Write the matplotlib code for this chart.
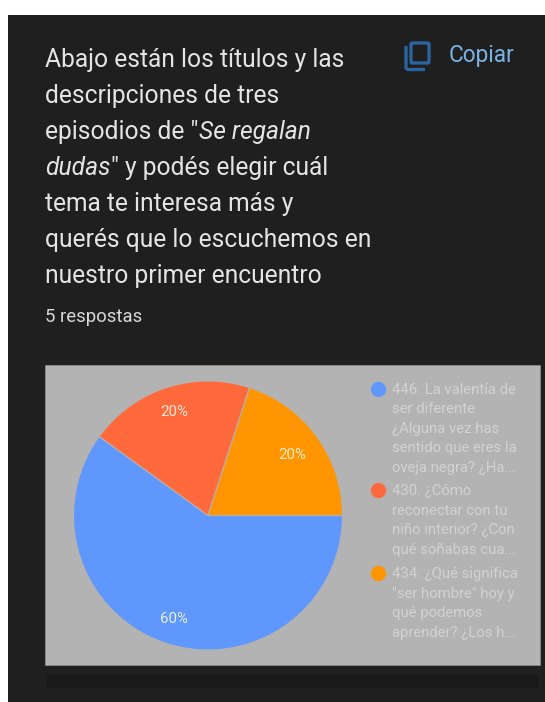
import matplotlib
matplotlib.use("Agg")
import matplotlib.pyplot as plt
from matplotlib.patches import Rectangle, FancyBboxPatch
import numpy as np

# Survey results
shares = [60, 20, 20]
colors = ["#6097fc", "#ff693c", "#ff9500"]
label_radii = [0.81, 0.81, 0.77]
pct_colors = ["#e3f0ff", "#ffe6d6", "#ffeccb"]
legend_lines = [
    ["446. La valentía de", "ser diferente", "¿Alguna vez has", "sentido que eres la", "oveja negra? ¿Ha..."],
    ["430. ¿Cómo", "reconectar con tu", "niño interior? ¿Con", "qué soñabas cua..."],
    ["434. ¿Qué significa", "\"ser hombre\" hoy y", "qué podemos", "aprender? ¿Los h..."],
]
title_lines = [
    [("Abajo están los títulos y las", "normal")],
    [("descripciones de tres", "normal")],
    [("episodios de \"", "normal"), ("Se regalan", "italic")],
    [("dudas", "italic"), ("\" y podés elegir cuál", "normal")],
    [("tema te interesa más y", "normal")],
    [("querés que lo escuchemos en", "normal")],
    [("nuestro primer encuentro", "normal")],
]
responses_label = "5 respostas"
copy_label = "Copiar"

W, H = 545, 702
plt.rcParams["font.family"] = ["Roboto", "DejaVu Sans"]
fig = plt.figure(figsize=(W / 100, H / 100), dpi=100, facecolor="white")

# Page layer in pixel coordinates, origin at the top left
page = fig.add_axes([0, 0, 1, 1])
page.set_xlim(0, W)
page.set_ylim(H, 0)
page.axis("off")

page.add_patch(Rectangle((8, 15), W - 8, H - 15, fc="#1f1f1f", ec="none"))
page.add_patch(Rectangle((45, 365), 495, 300, fc="#b3b3b3", ec="#8a8a8a", lw=0.6))
page.add_patch(Rectangle((47, 675), 491, 13, fc="#191919", ec="none"))

# Question text, with the italic run placed after the upright one
renderer = fig.canvas.get_renderer()
inv = page.transData.inverted()
for i, runs in enumerate(title_lines):
    x = 45
    y = 67 + i * 36
    for s, style in runs:
        t = page.text(x, y, s, fontsize=17.75, style=style, color="#e4e4e4",
                      va="baseline", ha="left")
        bb = t.get_window_extent(renderer)
        x = inv.transform((bb.x1, 0))[0] + 0.5

page.text(45, 322.5, responses_label, fontsize=13.4, color="#d8d8d8", va="baseline")

# Copy icon and its label
icon = "#2b639f"
page.add_patch(FancyBboxPatch((411, 43), 18, 20, boxstyle="round,pad=0,rounding_size=1.5",
                              fc="none", ec=icon, lw=2.4))
page.plot([406, 406, 407.5, 425], [46, 68, 69.5, 69.5], color=icon, lw=2.4,
          solid_capstyle="butt", solid_joinstyle="round")
page.text(449, 62, copy_label, fontsize=16.3, color="#7ab2e4", va="baseline")

# Pie, running clockwise from three o'clock
cx, cy, r = 208, 515.5, 134.5
pie_ax = fig.add_axes([(cx - r) / W, 1 - (cy + r) / H, 2 * r / W, 2 * r / H])
pie_ax.set_facecolor("none")
wedges, _ = pie_ax.pie(shares, colors=colors, startangle=0, counterclock=False, radius=1,
                       wedgeprops=dict(edgecolor="#b3b3b3", linewidth=0.8))
pie_ax.set_xlim(-1, 1)
pie_ax.set_ylim(-1, 1)
total = sum(shares)
for w, v, rad, c in zip(wedges, shares, label_radii, pct_colors):
    a = np.deg2rad((w.theta1 + w.theta2) / 2)
    pie_ax.text(rad * np.cos(a), rad * np.sin(a), f"{v / total:.0%}", color=c,
                fontsize=10.8, ha="center", va="center")

# Legend
line_step = 19.6
legend_y = [388.5, 490, 573]
for lines, y0, c in zip(legend_lines, legend_y, colors):
    page.plot([378], [y0], "o", ms=11, color=c, mec="none")
    for j, s in enumerate(lines):
        page.text(391.5, y0 + 5 + j * line_step, s, fontsize=10.7, color="#d2d2d2", va="baseline")

fig.savefig("out.png", dpi=100, facecolor="white")
